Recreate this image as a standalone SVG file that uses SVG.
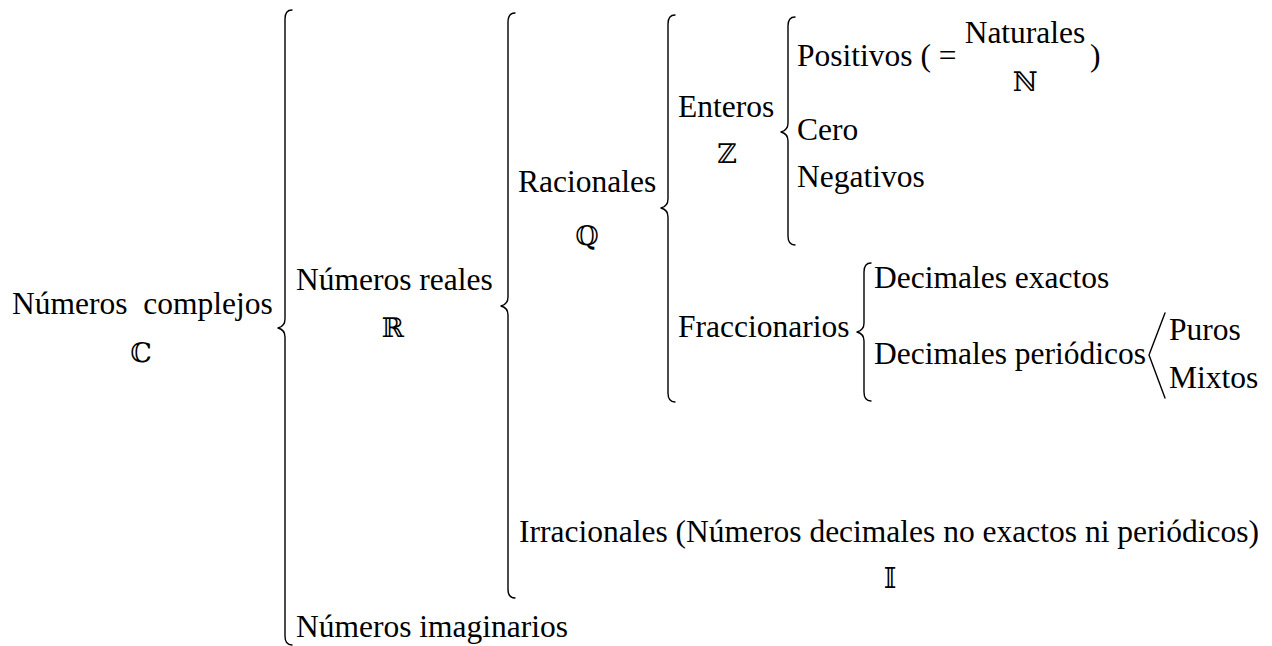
<svg xmlns="http://www.w3.org/2000/svg" width="1272" height="646" viewBox="0 0 1272 646">
<style>
.t{font-family:'Liberation Serif','Tinos','Times New Roman','DejaVu Serif',serif;font-size:31.5px;fill:#000}
.m{font-family:'DejaVu Serif','DejaVu Sans','Noto Sans',serif;font-size:27px;fill:#000;text-anchor:middle}
.b{fill:none;stroke:#000;stroke-width:1.4;stroke-linecap:round;stroke-linejoin:round}
</style>
<rect width="1272" height="646" fill="#fff"/>
<g id="connectors">
<path class="b" d="M292,10 C287,10 285,13 285,19 L285,319 C285,324 282,327 278,328 C282,329 285,332 285,337 L285,636 C285,642 287,645 292,645"/>
<path class="b" d="M515,13 C510,13 508,16 508,22 L508,297 C508,302 505,305 501,306 C505,307 508,310 508,315 L508,589 C508,595 510,598 515,598"/>
<path class="b" d="M675,15 C670,15 668,18 668,24 L668,199 C668,204 665,207 661,208 C665,209 668,212 668,217 L668,393 C668,399 670,402 675,402"/>
<path class="b" d="M795,17 C790,17 788,20 788,26 L788,123 C788,128 785,131 781,132 C785,133 788,136 788,141 L788,236 C788,242 790,245 795,245"/>
<path class="b" d="M871,263 C866,263 864,266 864,272 L864,323 C864,328 861,331 857,332 C861,333 864,336 864,341 L864,392 C864,398 866,401 871,401"/>
<path class="b" d="M1165,313 L1149,355 L1165,398"/>
</g>
<g id="complejos"><text class="t" x="12" y="314">Números&#160; complejos</text><text class="m" x="141" y="362">ℂ</text></g>
<g id="reales"><text class="t" x="296" y="290">Números reales</text><text class="m" x="393" y="337">ℝ</text></g>
<g id="racionales"><text class="t" x="518" y="192">Racionales</text><text class="m" x="587" y="245">ℚ</text></g>
<g id="enteros"><text class="t" x="678" y="117">Enteros</text><text class="m" x="727" y="163">ℤ</text></g>
<g id="positivos"><text class="t" x="797" y="66">Positivos ( =</text><text class="t" x="1025" y="43" text-anchor="middle">Naturales</text><text class="m" x="1025" y="91">ℕ</text><text class="t" x="1090" y="66">)</text></g>
<g id="cero"><text class="t" x="797" y="140">Cero</text></g>
<g id="negativos"><text class="t" x="797" y="187">Negativos</text></g>
<g id="fraccionarios"><text class="t" x="678" y="337">Fraccionarios</text></g>
<g id="exactos"><text class="t" x="874" y="288">Decimales exactos</text></g>
<g id="periodicos"><text class="t" x="874" y="364">Decimales periódicos</text></g>
<g id="puros"><text class="t" x="1169" y="340">Puros</text></g>
<g id="mixtos"><text class="t" x="1169" y="388">Mixtos</text></g>
<g id="irracionales"><text class="t" x="519" y="542">Irracionales (Números decimales no exactos ni periódicos)</text><text class="m" x="890" y="588">𝕀</text></g>
<g id="imaginarios"><text class="t" x="296" y="637">Números imaginarios</text></g>
</svg>
